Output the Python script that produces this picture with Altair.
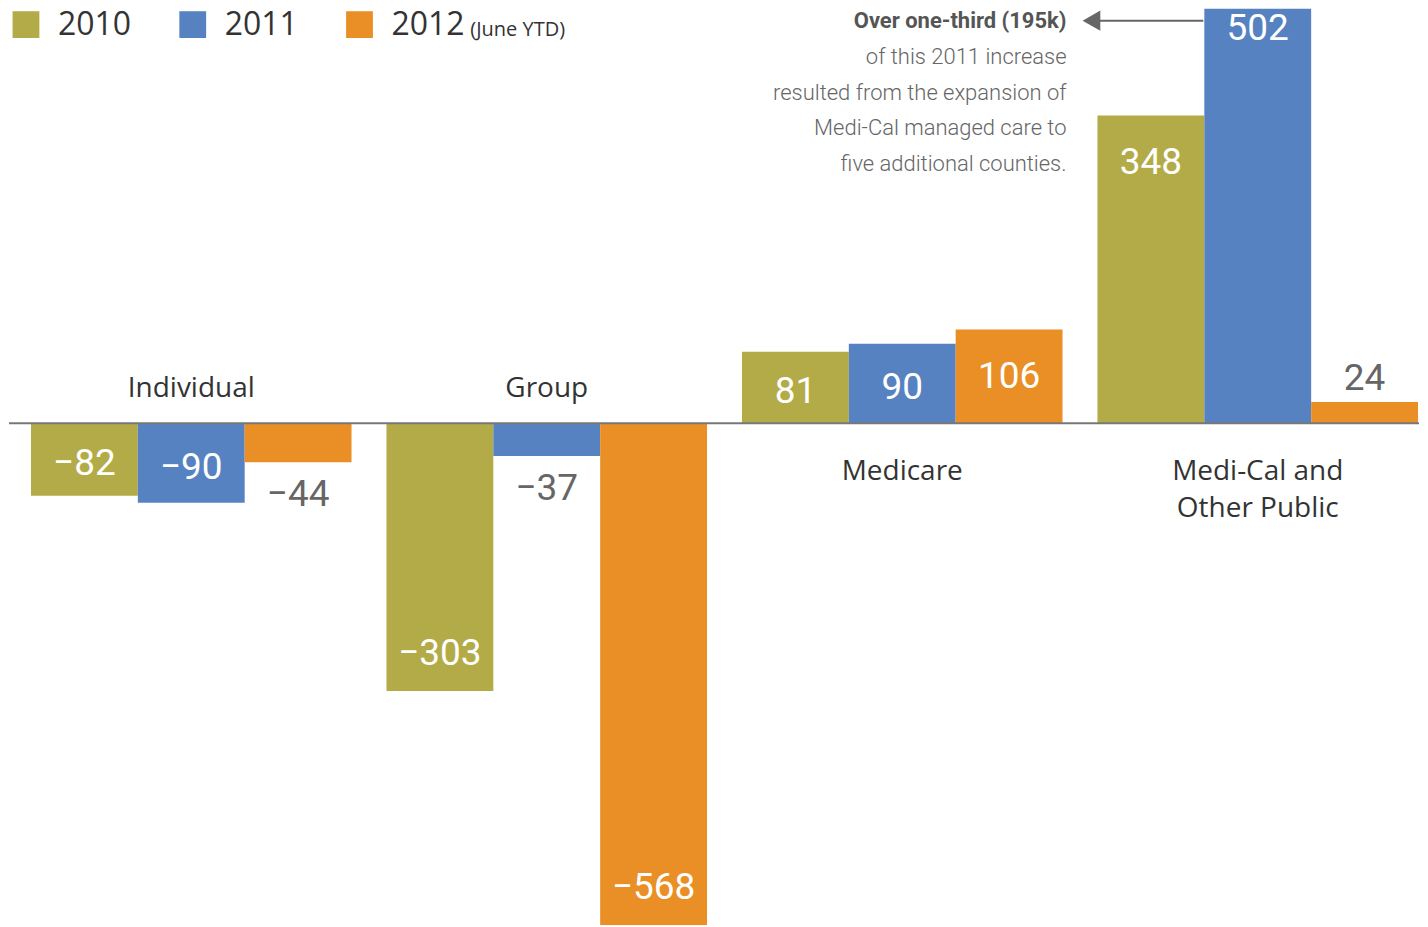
import altair as alt
import pandas as pd

categories = ["Individual", "Group", "Medicare", "Medi-Cal and Other Public"]
category_labels = ["Individual", "Group", "Medicare", "Medi-Cal and\nOther Public"]
years = ["2010", "2011", "2012"]
v2010 = [-82, -303, 81, 348]
v2011 = [-90, -37, 90, 502]
v2012 = [-44, -568, 106, 24]
colors = ["#B3AB47", "#5682C2", "#E98F25"]
note_head = "Over one-third (195k)"
note_body = "of this 2011 increase\nresulted from the expansion of\nMedi-Cal managed care to\nfive additional counties."
ytd_note = "(June YTD)"

label_of = dict(zip(categories, category_labels))
rows = []
for yr, vals in zip(years, [v2010, v2011, v2012]):
    for c, v in zip(categories, vals):
        rows.append({"category": c, "label": label_of[c], "year": yr, "value": v})
df = pd.DataFrame(rows)
ann = pd.DataFrame({"head": [note_head], "body": [note_body], "ytd": [ytd_note]})

Y_DOMAIN = [-568, 469]
LABEL_CAP = Y_DOMAIN[1] - 17
W, H = 1412, 918
NUM_FONT = "Roboto"
TXT_FONT = "Open Sans"

xenc = alt.X("category:N", sort=categories, axis=None,
             scale=alt.Scale(paddingInner=0.0983, paddingOuter=0.0323, align=0.957))
xoff = alt.XOffset("year:N", sort=years, scale=alt.Scale(paddingInner=0, paddingOuter=0))
yscale = alt.Scale(domain=Y_DOMAIN, nice=False, zero=True)

bars = alt.Chart(df).mark_bar(clip=True).encode(
    x=xenc,
    xOffset=xoff,
    y=alt.Y("value:Q", axis=None, scale=yscale),
    color=alt.Color(
        "year:N", sort=years,
        scale=alt.Scale(domain=years, range=colors),
        legend=alt.Legend(
            orient="none", legendX=1, legendY=0, direction="horizontal", title=None,
            symbolType="square", symbolSize=720, symbolStrokeWidth=0, symbolOpacity=1,
            labelFontSize=32, labelFont=TXT_FONT, labelColor="#333",
            labelOffset=16, columnPadding=45, padding=0, labelLimit=0,
        ),
    ),
)

val_base = alt.Chart(df).transform_calculate(
    sgn="datum.value > 0 ? 1 : -1",
    inside="abs(datum.value) >= 60 ? 1 : 0",
).transform_calculate(
    lpos=f"min({LABEL_CAP}, datum.inside == 1 ? datum.value - datum.sgn * min(abs(datum.value) / 2, 48) : datum.value + datum.sgn * 32)",
    txt="datum.value < 0 ? '\u2212' + abs(datum.value) : '' + datum.value",
)
val_enc = dict(
    x=xenc,
    xOffset=xoff,
    y=alt.Y("lpos:Q", axis=None, scale=yscale),
    text="txt:N",
)
values_in = val_base.transform_filter("datum.inside == 1").mark_text(
    font=NUM_FONT, fontSize=37, baseline="middle", align="center", color="white", dy=5
).encode(**val_enc)
values_out = val_base.transform_filter("datum.inside == 0").mark_text(
    font=NUM_FONT, fontSize=37, baseline="middle", align="center", color="#666", dy=5
).encode(**val_enc)

cat_base = alt.Chart(df).transform_joinaggregate(
    total="sum(value)", groupby=["category"]
).transform_filter("datum.year == '2011'").transform_calculate(zero="0")
cat_enc = dict(x=xenc, xOffset=xoff, y=alt.Y("zero:Q", axis=None, scale=yscale), text="label:N")

cat_above = cat_base.transform_filter("datum.total < 0").mark_text(
    font=TXT_FONT, fontSize=28, color="#333", baseline="alphabetic", dy=-26, lineBreak="\n"
).encode(**cat_enc)
cat_below = cat_base.transform_filter("datum.total >= 0").mark_text(
    font=TXT_FONT, fontSize=28, color="#333", baseline="top", dy=35, lineBreak="\n", lineHeight=37
).encode(**cat_enc)

baseline = alt.Chart(df).transform_aggregate(n="count()").transform_calculate(zero="0").mark_rule(
    color="#777", strokeWidth=2
).encode(y=alt.Y("zero:Q", axis=None, scale=yscale))

ytd = alt.Chart(ann).mark_text(
    font=TXT_FONT, fontSize=20, color="#333", align="left", baseline="middle"
).encode(x=alt.value(462), y=alt.value(21), text="ytd:N")

head = alt.Chart(ann).mark_text(
    font=NUM_FONT, fontSize=22, fontWeight="bold", color="#555", align="right", baseline="middle"
).encode(x=alt.value(1059), y=alt.value(12), text="head:N")

body = alt.Chart(ann).mark_text(
    font=NUM_FONT, fontSize=22, fontWeight=300, color="#666", align="right", baseline="alphabetic",
    lineBreak="\n", lineHeight=36
).encode(x=alt.value(1059), y=alt.value(55), text="body:N")

arrow_line = alt.Chart(ann).mark_rule(color="#666", strokeWidth=2).encode(
    x=alt.value(1088), x2=alt.value(1196), y=alt.value(12)
)
arrow_head = alt.Chart(ann).mark_point(
    shape="triangle-left", filled=True, color="#666", opacity=1, size=420
).encode(x=alt.value(1084), y=alt.value(12))

chart = alt.layer(
    bars, baseline, values_in, values_out, cat_above, cat_below, ytd, head, body, arrow_line, arrow_head
).properties(
    width=W, height=H, padding=0
).configure_view(stroke=None)

chart.save("out.html", embed_options={"renderer": "svg", "actions": False})
